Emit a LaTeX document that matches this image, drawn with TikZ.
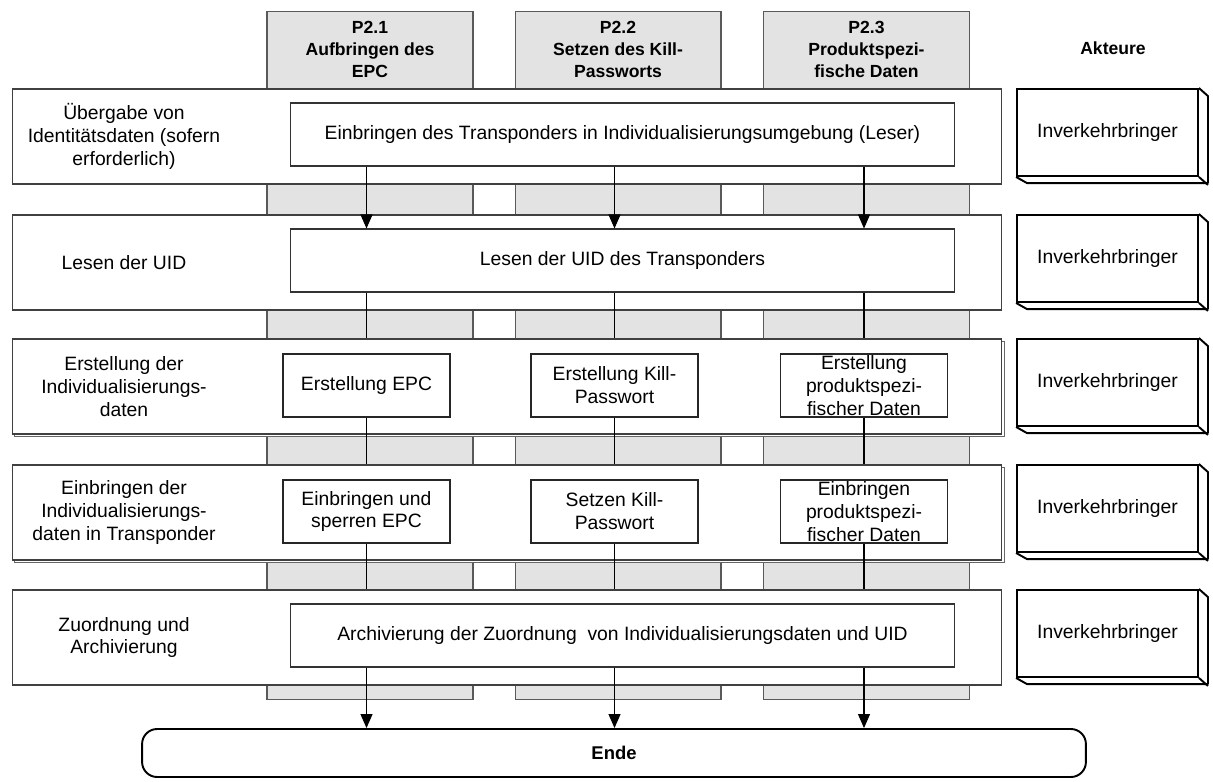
\documentclass[tikz,border=0pt]{standalone}
\usepackage{fontspec}
\setmainfont{Liberation Sans}
\usetikzlibrary{arrows.meta, shadows, positioning}

\begin{document}
\begin{tikzpicture}[x=0.02cm, y=-0.02cm,          % one unit = one pixel of the layout
                    font=\fontsize{11}{13}\selectfont,
                    every node/.style={align=center},
                    column/.style={draw=black!65, fill=black!11, line width=0.6pt,
                                   minimum width=4.12cm, minimum height=13.78cm, inner sep=0pt},
                    colhead/.style={font=\fontsize{10}{12.7}\selectfont\bfseries},
                    phase/.style={draw=black!75, fill=white, line width=0.6pt,
                                  minimum width=19.8cm, minimum height=1.9cm, inner sep=0pt},
                    shadowed/.style={copy shadow={shadow xshift=1.3pt, shadow yshift=-1.3pt,
                                     draw=black!60, fill=white}},
                    wide/.style={draw=black!80, fill=white, line width=0.6pt,
                                 minimum width=13.3cm, minimum height=1.26cm, inner sep=0pt},
                    task/.style={draw=black!85, fill=white, line width=0.6pt,
                                 minimum width=3.34cm, minimum height=1.26cm, inner sep=0pt},
                    actor/.style={draw, line width=1.1pt, minimum width=3.62cm,
                                  minimum height=1.74cm, inner sep=0pt},
                    depth/.style={line width=1.1pt, line join=round},
                    flow/.style={draw, line width=0.6pt},
                    arr/.style={flow, -{Triangle[length=0.28cm, width=0.24cm]}},
                    ende/.style={draw, line width=1.1pt, rounded corners=0.3cm,
                                 minimum width=18.88cm, minimum height=0.96cm,
                                 font=\fontsize{10.5}{12}\selectfont\bfseries}]
      \useasboundingbox (0,0) rectangle (1213,781);

      % Process columns
      \node (colA) [column] at (370,355.5) {};
      \node (colB) [column] at (618,355.5) {};
      \node (colC) [column] at (866.5,355.5) {};
      \node (headA) [colhead] at (370,49.5) {P2.1\\Aufbringen des\\EPC};
      \node (headB) [colhead] at (618,49.5) {P2.2\\Setzen des Kill-\\Passworts};
      \node (headC) [colhead] at (866.5,49.5) {P2.3\\Produktspezi-\\fische Daten};
      \node (akteure) [colhead] at (1113,48) {Akteure};

      % Phases
      \node (uebergabe) [phase] at (507,136.5) {};
      \node (lesen) [phase] at (507,262.5) {};
      \node (erstellung) [phase, shadowed] at (507,386.5) {};
      \node (einbringen) [phase, shadowed] at (507,512.5) {};
      \node (zuordnung) [phase] at (507,637.5) {};

      % Phase labels
      \node (uebergabeL) at (124,136.5) {Übergabe von\\Identitätsdaten (sofern\\erforderlich)};
      \node (lesenL) at (124,262.5) {Lesen der UID};
      \node (erstellungL) at (124,386.5) {Erstellung der\\Individualisierungs-\\daten};
      \node (einbringenL) at (124,512.5) {Einbringen der\\Individualisierungs-\\daten in Transponder};
      \node (zuordnungL) at (124,637.5) {Zuordnung und\\Archivierung};

      % Tasks
      \node (transp) [wide] at (622.5,134.5) {Einbringen des Transponders in Individualisierungsumgebung (Leser)};
      \node (uid) [wide] at (622.5,260.5) {Lesen der UID des Transponders};
      \node (epc) [task] at (366.5,385.5) {Erstellung EPC};
      \node (kill) [task] at (614.5,385.5) {Erstellung Kill-\\Passwort};
      \node (prod) [task] at (864,385.5) {Erstellung\\produktspezi-\\fischer Daten};
      \node (epcset) [task] at (366.5,511.5) {Einbringen und\\sperren EPC};
      \node (killset) [task] at (614.5,511.5) {Setzen Kill-\\Passwort};
      \node (prodset) [task] at (864,511.5) {Einbringen\\produktspezi-\\fischer Daten};
      \node (archiv) [wide] at (622.5,635.5) {Archivierung der Zuordnung\ \ von Individualisierungsdaten und UID};
      \node (ende) [ende] at (614,753) {Ende};

      % Actors
      \node (akt1) [actor] at (1107.5,132.5) {Inverkehrbringer};
      \draw[depth] (akt1.north east) -- ++(9,8) -- ++(0,87) -- ++(-181,0) -- (akt1.south west);
      \draw[depth] (akt1.south east) -- ++(9,8);
      \node (akt2) [actor] at (1107.5,258.5) {Inverkehrbringer};
      \draw[depth] (akt2.north east) -- ++(9,8) -- ++(0,87) -- ++(-181,0) -- (akt2.south west);
      \draw[depth] (akt2.south east) -- ++(9,8);
      \node (akt3) [actor] at (1107.5,382.5) {Inverkehrbringer};
      \draw[depth] (akt3.north east) -- ++(9,8) -- ++(0,87) -- ++(-181,0) -- (akt3.south west);
      \draw[depth] (akt3.south east) -- ++(9,8);
      \node (akt4) [actor] at (1107.5,508.5) {Inverkehrbringer};
      \draw[depth] (akt4.north east) -- ++(9,8) -- ++(0,87) -- ++(-181,0) -- (akt4.south west);
      \draw[depth] (akt4.south east) -- ++(9,8);
      \node (akt5) [actor] at (1107.5,633.5) {Inverkehrbringer};
      \draw[depth] (akt5.north east) -- ++(9,8) -- ++(0,87) -- ++(-181,0) -- (akt5.south west);
      \draw[depth] (akt5.south east) -- ++(9,8);

      % Flow: Transponder -> UID
      \draw[arr] (transp.south -| epc) -- (uid.north -| epc);
      \draw[arr] (transp.south -| kill) -- (uid.north -| kill);
      \draw[arr] (transp.south -| prod) -- (uid.north -| prod);
      % UID -> Erstellung
      \draw[flow] (uid.south -| epc) -- (erstellung.north -| epc);
      \draw[flow] (uid.south -| kill) -- (erstellung.north -| kill);
      \draw[flow] (uid.south -| prod) -- (erstellung.north -| prod);
      % Erstellung -> Einbringen
      \draw[flow] (epc) -- (einbringen.north -| epc);
      \draw[flow] (kill) -- (einbringen.north -| kill);
      \draw[flow] (prod) -- (einbringen.north -| prod);
      % Einbringen -> Zuordnung
      \draw[flow] (epcset) -- (zuordnung.north -| epcset);
      \draw[flow] (killset) -- (zuordnung.north -| killset);
      \draw[flow] (prodset) -- (zuordnung.north -| prodset);
      % Archivierung -> Ende
      \draw[arr] (archiv.south -| epc) -- (ende.north -| epc);
      \draw[arr] (archiv.south -| kill) -- (ende.north -| kill);
      \draw[arr] (archiv.south -| prod) -- (ende.north -| prod);
\end{tikzpicture}
\end{document}
